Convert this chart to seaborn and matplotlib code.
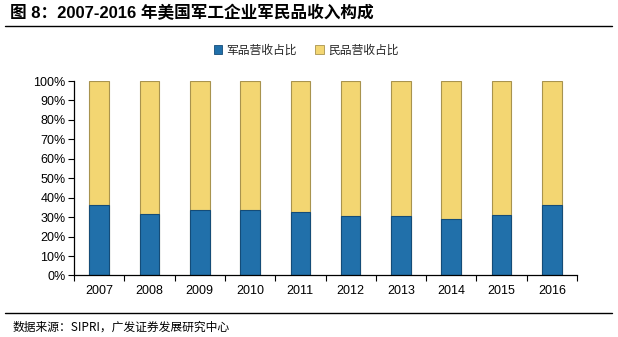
import matplotlib
matplotlib.use("Agg")
import matplotlib.pyplot as plt
import seaborn as sns
import pandas as pd
import numpy as np
from matplotlib.lines import Line2D
from matplotlib.patches import Patch
from matplotlib.ticker import FixedLocator, PercentFormatter

years = ["2007", "2008", "2009", "2010", "2011", "2012", "2013", "2014", "2015", "2016"]
military_share = [36.2, 31.5, 33.7, 33.7, 32.5, 30.6, 30.6, 28.9, 31.1, 36.2]
civil_share = [round(100 - v, 1) for v in military_share]
series_names = ["军品营收占比", "民品营收占比"]
y_ticks = [0, 10, 20, 30, 40, 50, 60, 70, 80, 90, 100]

title_text = "图 8：2007-2016 年美国军工企业军民品收入构成"
source_text = "数据来源：SIPRI，广发证券发展研究中心"

sns.set_theme(style="white")
plt.rcParams["font.family"] = ["Liberation Sans", "Noto Sans CJK SC", "DejaVu Sans"]

blue = "#2170AA"
blue_edge = "#144C78"
yellow = "#F3D672"
yellow_edge = "#A8934E"

df = pd.DataFrame({
    "year": years,
    "military": military_share,
    "total": [m + c for m, c in zip(military_share, civil_share)],
})

fig = plt.figure(figsize=(6.18, 3.37), dpi=100)
ax = fig.add_axes([0.1197, 0.1825, 0.8140, 0.5771])

# stacked bars: full column in yellow, military share overlaid in blue
sns.barplot(data=df, x="year", y="total", color=yellow, width=0.39,
            edgecolor=yellow_edge, linewidth=0.8, saturation=1, ax=ax)
sns.barplot(data=df, x="year", y="military", color=blue, width=0.39,
            edgecolor=blue_edge, linewidth=0.8, saturation=1, ax=ax)

ax.set_ylim(0, 100)
ax.set_xlim(-0.5, len(years) - 0.5)
ax.yaxis.set_major_locator(FixedLocator(y_ticks))
ax.yaxis.set_major_formatter(PercentFormatter(decimals=0))
ax.set_xlabel("")
ax.set_ylabel("")

for side in ["top", "right"]:
    ax.spines[side].set_visible(False)
for side in ["left", "bottom"]:
    ax.spines[side].set_color("black")
    ax.spines[side].set_linewidth(0.9)

ax.tick_params(axis="y", which="major", left=True, length=4, width=0.8,
               color="black", labelsize=9, labelcolor="black", pad=2)
ax.tick_params(axis="x", which="major", bottom=False, length=0, labelsize=9,
               labelcolor="black", pad=7)
ax.xaxis.set_minor_locator(FixedLocator(np.arange(-0.5, len(years), 1.0)))
ax.tick_params(axis="x", which="minor", bottom=True, length=4, width=0.8,
               color="black")

handles = [Patch(facecolor=blue, edgecolor=blue_edge, linewidth=0.6),
           Patch(facecolor=yellow, edgecolor=yellow_edge, linewidth=0.6)]
fig.legend(handles, series_names, loc="center", bbox_to_anchor=(0.495, 0.851),
           ncol=2, frameon=False, handlelength=0.7, handleheight=0.7,
           handletextpad=0.35, columnspacing=1.6,
           prop={"family": ["Noto Sans CJK SC"], "size": 8.5})

fig.text(0.016, 0.962, title_text, fontsize=12, fontweight="bold",
         ha="left", va="center", color="black",
         family=["Liberation Sans", "Noto Sans CJK SC"])
fig.add_artist(Line2D([0.008, 0.99], [0.924, 0.924], color="black",
                      linewidth=1.0, transform=fig.transFigure))
fig.add_artist(Line2D([0.008, 0.99], [0.072, 0.072], color="black",
                      linewidth=1.0, transform=fig.transFigure))
fig.text(0.02, 0.030, source_text, fontsize=8.5, ha="left", va="center",
         color="black", family=["Noto Sans CJK SC", "Liberation Sans"])

fig.savefig("out.png", dpi=100)
